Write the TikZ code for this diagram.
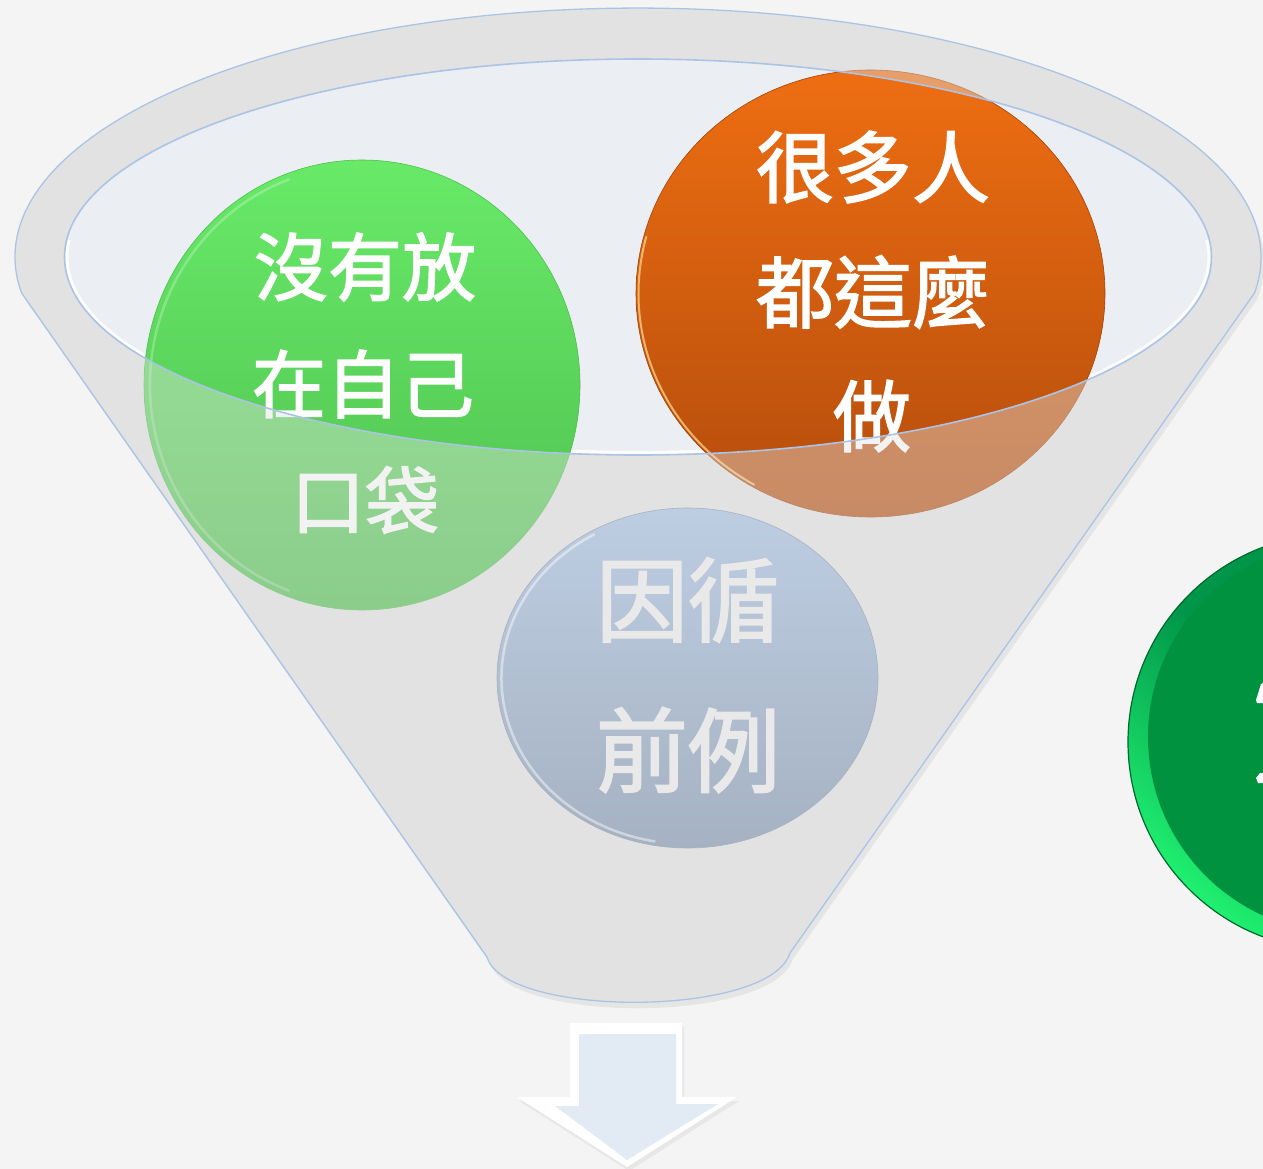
\documentclass[tikz,border=0pt]{standalone}
\usepackage{fontspec}
\newfontfamily\cjk{Noto Sans CJK TC}[FakeBold=2]
\usetikzlibrary{shapes.geometric}
\definecolor{bg}{HTML}{F4F4F4}
\definecolor{funnelgray}{HTML}{E2E2E2}
\definecolor{openfill}{HTML}{EBEEF3}
\definecolor{edgeblue}{HTML}{ABC4E6}
\definecolor{greenT}{HTML}{68EA68}
\definecolor{greenB}{HTML}{4EBE4E}
\definecolor{orangeT}{HTML}{EE6E12}
\definecolor{orangeB}{HTML}{B44C0C}
\definecolor{orangehi}{HTML}{F8C67C}
\definecolor{blueT}{HTML}{BDCDE2}
\definecolor{blueB}{HTML}{A6B2C2}
\definecolor{bluetext}{HTML}{E9E9E9}
\definecolor{dkgreen}{HTML}{00923E}
\definecolor{dkgreenrimT}{HTML}{00964A}
\definecolor{dkgreenrimB}{HTML}{20F070}
\definecolor{dkgreenline}{HTML}{006A2C}
\definecolor{arrowface}{HTML}{E2EAF4}
\tikzset{
  txtg/.style={font=\cjk\fontsize{74}{74}\selectfont, text=white, inner sep=0pt},
  txto/.style={font=\cjk\fontsize{78}{78}\selectfont, text=white, inner sep=0pt},
  txtb/.style={font=\cjk\fontsize{92}{92}\selectfont, text=bluetext, inner sep=0pt},
  ball/.style={ellipse, inner sep=0pt, outer sep=0pt},
}
\begin{document}
\begin{tikzpicture}[x=1pt,y=1pt]
\useasboundingbox (0,0) rectangle (1263,-1169);
\fill[bg] (0,0) rectangle (1263,-1169);
\def\funnelpath{(21.6,-293) arc[start angle=188.3,end angle=-8.3,x radius=623pt,y radius=249pt] -- (790,-953) .. controls (770,-1018) and (505,-1018) .. (487,-957) -- cycle}
\def\openpath{(638,-257) ellipse[x radius=573.5pt, y radius=198pt]}
% shadow and body of the funnel
\fill[black, opacity=0.06, shift={(3,-6)}] \funnelpath;
\fill[funnelgray] \funnelpath;
\fill[openfill] \openpath;
\draw[white, opacity=0.9, line width=3pt] (638,-257) ++(175:571pt and 195.5pt) arc[start angle=175, end angle=365, x radius=571pt, y radius=195.5pt];
% balls inside the funnel
\node[ball, minimum width=436pt, minimum height=450pt, top color=greenT, bottom color=greenB, draw=greenB, line width=0.6pt] (green) at (362,-385) {};
\draw[white, opacity=0.25, line width=2.5pt] (362,-385) ++(110:212pt and 219pt) arc[start angle=110, end angle=250, x radius=212pt, y radius=219pt];
\node[ball, minimum width=469pt, minimum height=447pt, top color=orangeT, bottom color=orangeB, draw=orangeB!90!black, line width=0.6pt] (orange) at (870.5,-293.5) {};
\draw[orangehi, opacity=0.85, line width=2pt] (870.5,-293.5) ++(165:232pt and 221pt) arc[start angle=165, end angle=240, x radius=232pt, y radius=221pt];
\node[txtg] (g1) at (365,-267) {沒有放};
\node[txtg] (g2) at (363,-384) {在自己};
\node[txtg] (g3) at (365,-500) {口袋};
\node[txto] (o1) at (873,-167) {很多人};
\node[txto] (o2) at (873,-292) {都這麼};
\node[txto] (o3) at (872,-416) {做};
% translucent rim and front wall
\fill[funnelgray, fill opacity=0.42, even odd rule] \funnelpath \openpath;
\draw[edgeblue, line width=1.6pt] \openpath;
\draw[edgeblue, line width=1.3pt] \funnelpath;
% front ball
\node[ball, minimum width=381pt, minimum height=340pt, top color=blueT, bottom color=blueB, draw=blueB, line width=0.6pt] (blue) at (687.5,-678) {};
\draw[white, opacity=0.45, line width=2.5pt] (687.5,-678) ++(120:186pt and 166pt) arc[start angle=120, end angle=260, x radius=186pt, y radius=166pt];
\node[txtb] (b1) at (688,-600) {因循};
\node[txtb] (b2) at (688,-750) {前例};
% dark green ball at the right edge
\fill[top color=dkgreenrimT, bottom color=dkgreenrimB, middle color=dkgreenrimT, shading angle=-40] (1336,-742) circle[radius=208pt];
\fill[dkgreen] (1344,-737) circle[radius=196pt];
\draw[dkgreenline, line width=1.2pt] (1336,-742) circle[radius=208pt];
\fill[white] (1263,-683) -- (1261,-684) -- (1256,-700) -- (1257,-703) -- (1263,-703) -- cycle;
\fill[white] (1260,-773) -- (1256,-778) -- (1258,-783) -- (1263,-783) -- (1263,-773) -- cycle;
% arrow below the funnel
\fill[black, opacity=0.05, shift={(2,-4)}] (570,-1023) -- (682,-1023) -- (682,-1097) -- (737,-1097) -- (627,-1167) -- (517,-1097) -- (570,-1097) -- cycle;
\fill[white] (570,-1023) -- (682,-1023) -- (682,-1097) -- (737,-1097) -- (627,-1167) -- (517,-1097) -- (570,-1097) -- cycle;
\fill[arrowface] (579,-1034) -- (676,-1034) -- (676,-1104) -- (718,-1104) -- (627,-1160) -- (555,-1106) -- (579,-1106) -- cycle;
\end{tikzpicture}
\end{document}
